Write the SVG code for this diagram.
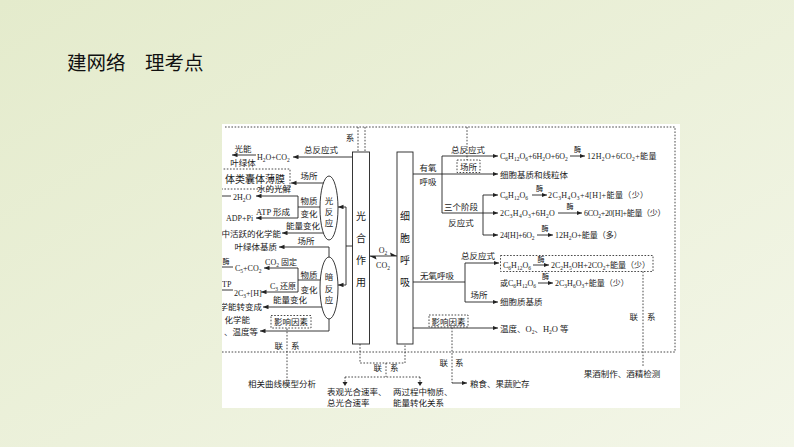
<svg xmlns="http://www.w3.org/2000/svg" width="794" height="447" viewBox="0 0 794 447">
<defs>
<linearGradient id="bg" x1="0" y1="0" x2="1" y2="1">
<stop offset="0" stop-color="#e4ebcc"/>
<stop offset="1" stop-color="#f3f6e8"/>
</linearGradient>
<clipPath id="pc"><rect x="222" y="124" width="458" height="284"/></clipPath>
<marker id="ah" markerUnits="userSpaceOnUse" markerWidth="6" markerHeight="5" refX="5.5" refY="2.2" orient="auto"><path d="M0,0 L5.5,2.2 L0,4.4 z" fill="#222"/></marker>
</defs>
<style>
text{font-family:"Liberation Serif","Noto Sans CJK SC",serif;fill:#1a1a1a;font-size:8.5px}
.c{text-anchor:middle}
.e{text-anchor:end}
.eq{font-size:8px}
.b{font-size:5.5px;baseline-shift:-1.8px}
.ln{fill:none;stroke:#222;stroke-width:0.9}
.ar{fill:none;stroke:#222;stroke-width:0.9;marker-end:url(#ah)}
.ds{fill:none;stroke:#333;stroke-width:0.9;stroke-dasharray:1.6 1.6}
.dsb{fill:#fff;stroke:#333;stroke-width:0.9;stroke-dasharray:1.6 1.6}
.bx{fill:#fff;stroke:#222;stroke-width:0.9}
.mei{font-size:7px}
.big{font-size:10px}
.title{font-family:"Noto Sans CJK SC",sans-serif;font-size:19.5px;fill:#111}
</style>
<rect width="794" height="447" fill="url(#bg)"/>
<text class="title" x="67" y="70">建网络　理考点</text>
<rect x="222" y="124" width="458" height="284" fill="#fff"/>
<g clip-path="url(#pc)">
<g id="connectors">
<path class="ds" d="M225,127 H675 V352 H222"/>
<path class="ds" d="M358,127 V152 M365,127 V152"/>
<path class="ds" d="M467,127 V160"/>
<path class="ar" d="M352.5,157 H293"/>
<path class="ar" d="M256,155 H232"/>
<path class="ln" d="M352.5,246 H346 M346,207 V285"/>
<path class="ar" d="M346,207 H338"/>
<path class="ar" d="M346,285 H338"/>
<path class="ar" d="M324,183 H291"/>
<path class="ln" d="M320,207 H298 M298,196 V218"/>
<path class="ar" d="M298,196 H256"/>
<path class="ar" d="M298,218 H256"/>
<path class="ln" d="M222,196 H231"/>
<path class="ar" d="M323.5,233 H282"/>
<path class="ar" d="M329,257 V247 H279"/>
<path class="ln" d="M320.5,280 H298 M298,268 V292"/>
<path class="ar" d="M298,268 H264"/>
<path class="ar" d="M298,292 H261"/>
<path class="ln" d="M222,267 H233 M222,290 H233"/>
<path class="ar" d="M322,307 H263"/>
<path class="ar" d="M329,319 V331 H260"/>
<path class="ds" d="M287,328.5 V380"/>
<path class="ln" d="M369.5,256 H397"/>
<path d="M397,256 L390,252.6 L391,256 z" fill="#222"/>
<path d="M369.5,256 L376.5,259.4 L375.5,256 z" fill="#222"/>
<path class="ar" d="M413,174 H498"/>
<path class="ln" d="M442,156 V213"/>
<path class="ar" d="M442,156 H498"/>
<path class="ar" d="M442,213 H498"/>
<path class="ln" d="M483,195 V235"/>
<path class="ar" d="M483,195 H498"/>
<path class="ar" d="M483,235 H498"/>
<path class="ln" d="M413,282 H465 M465,263 V302"/>
<path class="ar" d="M465,263 H499"/>
<path class="ar" d="M465,302 H498"/>
<path class="ar" d="M413,328 H498"/>
<path class="ds" d="M452,327.5 V383"/>
<path class="ar" d="M452,383 H467"/>
<path class="ds" d="M643,271.5 V367"/>
<path class="ds" d="M360,344 V363 H405 V344"/>
<path class="ds" d="M386,363 V377 M345,377 H420"/>
<path class="ds" d="M345,377 V383 M420,377 V383"/>
<path d="M342.5,382 L347.5,382 L345,386 z" fill="#222"/>
<path d="M417.5,382 L422.5,382 L420,386 z" fill="#222"/>
<path class="ar" d="M570,156 H585"/>
<path class="ar" d="M532,195 H547"/>
<path class="ar" d="M558,213 H582"/>
<path class="ar" d="M537,235 H553"/>
<path class="ar" d="M533,265 H549"/>
<path class="ar" d="M538,283 H553"/>
</g>

<g id="photosynthesis">
<rect class="bx" x="352.5" y="152" width="17" height="192"/>
<text class="c big" x="361" y="219.5">光</text>
<text class="c big" x="361" y="241.5">合</text>
<text class="c big" x="361" y="263.5">作</text>
<text class="c big" x="361" y="285.5">用</text>
</g>
<g id="respiration">
<rect class="bx" x="397" y="152" width="16" height="192"/>
<text class="c big" x="405" y="219.5">细</text>
<text class="c big" x="405" y="241.5">胞</text>
<text class="c big" x="405" y="263.5">呼</text>
<text class="c big" x="405" y="285.5">吸</text>
</g>
<g id="light-reaction">
<ellipse class="bx" cx="329" cy="208" rx="9" ry="32"/>
<text class="c" x="329" y="204">光</text>
<text class="c" x="329" y="215">反</text>
<text class="c" x="329" y="226">应</text>
</g>
<g id="dark-reaction">
<ellipse class="bx" cx="329" cy="288" rx="9" ry="31"/>
<text class="c" x="329" y="280">暗</text>
<text class="c" x="329" y="291.5">反</text>
<text class="c" x="329" y="303">应</text>
</g>

<g id="labels">
<text x="350" y="141" class="c">系</text>
<text x="321" y="152.5" class="c">总反应式</text>
<text x="257" y="160" class="eq">H<tspan class="b">2</tspan>O+CO<tspan class="b">2</tspan></text>
<text x="243" y="151.5" class="c">光能</text>
<text x="243" y="166" class="c">叶绿体</text>
<text x="309" y="179" class="c">场所</text>
<g id="thylakoid"><rect class="dsb" x="214" y="169" width="76" height="20"/><text x="225" y="182.5" style="font-size:10px">体类囊体薄膜</text></g>
<text x="274" y="192" class="c">水的光解</text>
<text x="233" y="199.5" class="eq">2H<tspan class="b">2</tspan>O</text>
<text x="309" y="204" class="c">物质</text>
<text x="309" y="217" class="c">变化</text>
<text x="273" y="214.5" class="c">ATP 形成</text>
<text x="226" y="221" class="eq">ADP+Pi</text>
<text x="303" y="229" class="c">能量变化</text>
<text x="281" y="236.5" class="e">中活跃的化学能</text>
<text x="306" y="243.5" class="c">场所</text>
<text x="277" y="250" class="e">叶绿体基质</text>
<text x="226" y="263.5" class="c mei">酶</text>
<text x="281" y="265" class="c eq">CO<tspan class="b">2</tspan> 固定</text>
<text x="235" y="271" class="eq">C<tspan class="b">5</tspan>+CO<tspan class="b">2</tspan></text>
<text x="309" y="277.5" class="c">物质</text>
<text x="309" y="292.5" class="c">变化</text>
<text x="222" y="287" class="eq">TP</text>
<text x="283" y="289" class="c eq">C<tspan class="b">3</tspan> 还原</text>
<text x="234" y="295.5" class="eq">2C<tspan class="b">3</tspan>+[H]</text>
<text x="290" y="303" class="c">能量变化</text>
<text x="262" y="310" class="e">学能转变成</text>
<text x="250" y="322.5" class="e">化学能</text>
<g id="factor-left"><rect class="dsb" x="271" y="315.5" width="40" height="12.5"/><text x="291" y="325" class="c">影响因素</text></g>
<text x="258" y="334.5" class="e">、温度等</text>
<text x="283" y="349" class="e">联</text>
<text x="291" y="349">系</text>
<text x="282" y="386.5" class="c">相关曲线模型分析</text>
<text x="383" y="252.5" class="c eq">O<tspan class="b">2</tspan></text>
<text x="383" y="267.5" class="c eq">CO<tspan class="b">2</tspan></text>
<text x="382" y="371" class="e">联</text>
<text x="390" y="371">系</text>
<text x="327" y="395">表观光合速率、</text>
<text x="327" y="405.5">总光合速率</text>
<text x="393" y="395">两过程中物质、</text>
<text x="393" y="405.5">能量转化关系</text>

<text x="428" y="171" class="c">有氧</text>
<text x="428" y="185" class="c">呼吸</text>
<text x="468" y="152.5" class="c">总反应式</text>
<g id="site-aerobic"><rect class="dsb" x="457" y="160" width="23" height="12.5"/><text x="468.5" y="169.5" class="c">场所</text></g>
<text x="461" y="210" class="c">三个阶段</text>
<text x="461" y="225.5" class="c">反应式</text>
<text x="500" y="159" class="eq">C<tspan class="b">6</tspan>H<tspan class="b">12</tspan>O<tspan class="b">6</tspan>+6H<tspan class="b">2</tspan>O+6O<tspan class="b">2</tspan></text>
<text x="577.5" y="151.5" class="c mei">酶</text>
<text x="587" y="159" class="eq" style="letter-spacing:0.35px">12H<tspan class="b">2</tspan>O+6CO<tspan class="b">2</tspan>+能量</text>
<text x="500" y="177.5">细胞基质和线粒体</text>
<text x="500" y="198" class="eq">C<tspan class="b">6</tspan>H<tspan class="b">12</tspan>O<tspan class="b">6</tspan></text>
<text x="539.5" y="190.5" class="c mei">酶</text>
<text x="548" y="198" class="eq" style="letter-spacing:0.4px">2C<tspan class="b">3</tspan>H<tspan class="b">4</tspan>O<tspan class="b">3</tspan>+4[H]+能量（少）</text>
<text x="500" y="216" class="eq" style="letter-spacing:0.25px">2C<tspan class="b">3</tspan>H<tspan class="b">4</tspan>O<tspan class="b">3</tspan>+6H<tspan class="b">2</tspan>O</text>
<text x="570" y="208.5" class="c mei">酶</text>
<text x="584" y="216" class="eq" style="letter-spacing:-0.3px">6CO<tspan class="b">2</tspan>+20[H]+能量（少）</text>
<text x="500" y="238" class="eq" style="letter-spacing:-0.2px">24[H]+6O<tspan class="b">2</tspan></text>
<text x="545" y="230.5" class="c mei">酶</text>
<text x="555" y="238" class="eq">12H<tspan class="b">2</tspan>O+能量（多）</text>

<text x="437" y="279" class="c">无氧呼吸</text>
<text x="478" y="259" class="c">总反应式</text>
<g id="anaerobic-eq"><rect class="ds" x="500.5" y="255.5" width="152.5" height="16"/>
<text x="503" y="268" class="eq">C<tspan class="b">6</tspan>H<tspan class="b">12</tspan>O<tspan class="b">6</tspan></text>
<text x="541" y="262" class="c mei">酶</text>
<text x="551" y="268" class="eq">2C<tspan class="b">2</tspan>H<tspan class="b">5</tspan>OH+2CO<tspan class="b">2</tspan>+能量（少）</text></g>
<text x="500" y="286" class="eq">或C<tspan class="b">6</tspan>H<tspan class="b">12</tspan>O<tspan class="b">6</tspan></text>
<text x="545.5" y="279" class="c mei">酶</text>
<text x="555" y="286" class="eq">2C<tspan class="b">3</tspan>H<tspan class="b">6</tspan>O<tspan class="b">3</tspan>+能量（少）</text>
<text x="479" y="297.5" class="c">场所</text>
<text x="500" y="305">细胞质基质</text>
<text x="638" y="320" class="e">联</text>
<text x="647" y="320">系</text>
<text x="622" y="376.5" class="c">果酒制作、酒精检测</text>
<g id="factor-right"><rect class="dsb" x="429" y="315" width="39" height="12"/><text x="448.5" y="324.5" class="c">影响因素</text></g>
<text x="500" y="331.5">温度、O<tspan class="b">2</tspan>、H<tspan class="b">2</tspan>O 等</text>
<text x="448" y="366" class="e">联</text>
<text x="455" y="366">系</text>
<text x="470" y="387">粮食、果蔬贮存</text>
</g>
</g>
</svg>
